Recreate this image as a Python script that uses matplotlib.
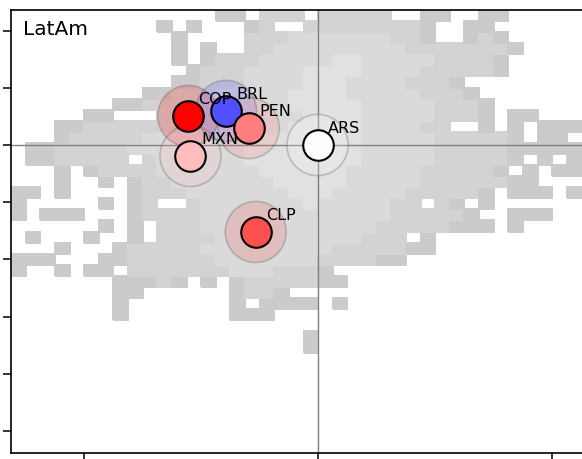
import numpy as np
import matplotlib
matplotlib.use("Agg")
import matplotlib.pyplot as plt
from matplotlib.colors import ListedColormap, BoundaryNorm

region = "LatAm"

# currency positions and colour score (0 = blue, 0.5 = white, 1 = red)
currencies = ["COP", "MXN", "BRL", "PEN", "ARS", "CLP"]
pos_x = [-0.553, -0.543, -0.391, -0.294, 0.0, -0.264]
pos_y = [0.127, -0.048, 0.149, 0.074, 0.0, -0.380]
scores = [1.0, 0.63, 0.16, 0.75, 0.5, 0.84]

# background density, one digit per bin, rows listed from the top (0 = empty)
density_rows = [
    "0000000000000011022202222200110011",
    "000000000010100012002222222210011",
    "0000000000010000222333333322100121",
    "00000000000101002233333333322222221",
    "0000000000010122233333443333322221",
    "0000000000001222333344443333222221",
    "0000000000011222333344433332221",
    "00000000011222333334444333332221",
    "000000011222233333344444333332221",
    "000001100022233333334444333332221011",
    "000112222222333333344444333322001010111",
    "000122222333333334444444333332222210110",
    "011222223333333344444444333332222211111",
    "011222220233333344444444333332222210101",
    "000101222233333334444443333322222101011",
    "000100101223333333444443333322222211",
    "110100001222333333344433333222221011101",
    "100000101200233333334333332202101",
    "1011100012222333333333333322222100111",
    "00000010102223333333333332222211101",
    "01000100102222333333333322201",
    "00010001222223333333332222211",
    "111000112222223333333222211",
    "1001011022222223332221",
    "00000001112101012222211",
    "0000000110000001221",
    "00000001000000010111101",
    "000000010000000111",
    "",
    "000000000000000000001",
    "000000000000000000001",
]

x_lim = (-1.31, 1.19)
y_lim = (-1.346, 0.59)
n_bins = 40

grid = np.zeros((n_bins, n_bins))
for i, row in enumerate(density_rows):
    row = row.ljust(n_bins, "0")
    grid[i] = [int(ch) for ch in row]
grid = np.ma.masked_equal(np.flipud(grid), 0)
x_edges = np.linspace(x_lim[0], x_lim[1], n_bins + 1)
y_edges = np.linspace(y_lim[0], y_lim[1], n_bins + 1)

grays = ListedColormap(["#cbcbcb", "#d3d3d3", "#dadada", "#e1e1e1"])
norm = BoundaryNorm([0.5, 1.5, 2.5, 3.5, 4.5], grays.N)

fig = plt.figure(figsize=(5.82, 4.59), dpi=100)
ax = fig.add_axes([11 / 582, 6 / 459, 585 / 582, 443 / 459])

ax.pcolormesh(x_edges, y_edges, grid, cmap=grays, norm=norm,
              edgecolors="face", linewidth=0.2, zorder=1)
ax.axhline(0, color="#808080", lw=1.0, zorder=2)
ax.axvline(0, color="#808080", lw=1.0, zorder=2)

cmap = plt.get_cmap("bwr")
colors = [cmap(s) for s in scores]

# soft halo round each currency, then the marker and its code
ax.scatter(pos_x, pos_y, s=44 ** 2, c=colors, alpha=0.2, linewidths=0, zorder=3)
ax.scatter(pos_x, pos_y, s=44 ** 2, facecolors="none",
           edgecolors=(0.35, 0.35, 0.35, 0.3), linewidths=1.2, zorder=3)
for name, x, y, col in zip(currencies, pos_x, pos_y, colors):
    ax.scatter([x], [y], s=22 ** 2, color=col, edgecolors="black",
               linewidths=1.5, zorder=4)
    ax.annotate(name, (x, y), xytext=(7.5, 8.5), textcoords="offset points",
                ha="left", va="baseline", fontsize=11.5, zorder=5)

ax.text(0.021, 0.944, region, transform=ax.transAxes, fontsize=14.5,
        ha="left", va="baseline", zorder=5)

ax.set_xlim(x_lim)
ax.set_ylim(y_lim)
ax.set_xticks([-1, 0, 1])
ax.set_yticks(np.arange(-1.25, 0.51, 0.25))
ax.tick_params(labelbottom=False, labelleft=False, direction="out",
               length=6, width=1.1)
for sp in ax.spines.values():
    sp.set_linewidth(1.2)

fig.savefig("out.png", dpi=100)
